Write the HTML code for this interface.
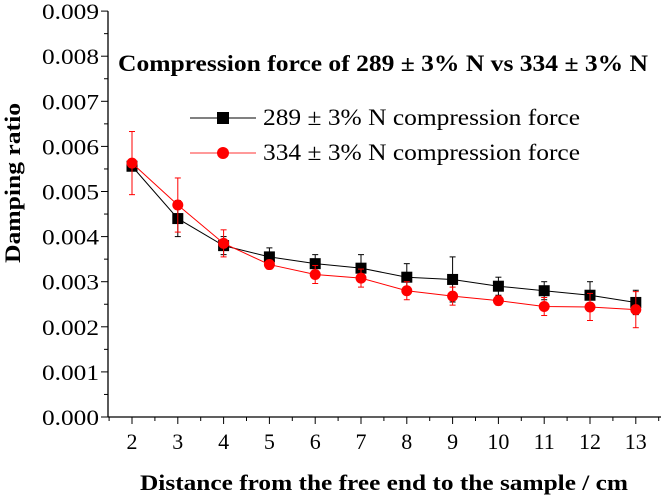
<!DOCTYPE html>
<html><head><meta charset="utf-8"><style>
body{margin:0;background:#fff}
svg{display:block;font-family:"Liberation Serif",serif}
</style></head><body>
<svg id="chart" width="664" height="499">
<text x="118" y="71" font-size="23" font-weight="bold" textLength="530" lengthAdjust="spacingAndGlyphs">Compression force of 289 ± 3% N vs  334 ± 3% N</text>
<g>
<line x1="190" y1="118" x2="256" y2="118" stroke="#000" stroke-width="1"/>
<rect x="217" y="112" width="12" height="12" fill="#000"/>
<text x="263" y="125" font-size="23" textLength="317" lengthAdjust="spacingAndGlyphs">289 ± 3% N compression force</text>
<line x1="190" y1="153" x2="256" y2="153" stroke="#f33" stroke-width="1"/>
<circle cx="223" cy="153" r="6" fill="#f00"/>
<text x="263" y="160" font-size="23" textLength="317" lengthAdjust="spacingAndGlyphs">334 ± 3% N compression force</text>
</g>
<text transform="translate(20,183) rotate(-90)" text-anchor="middle" font-size="22" font-weight="bold" textLength="160" lengthAdjust="spacingAndGlyphs">Damping ratio</text>
<text x="140" y="490" font-size="22" font-weight="bold" textLength="488" lengthAdjust="spacingAndGlyphs">Distance from the free end to the sample / cm</text>
</svg>
<script>
const categories=[2,3,4,5,6,7,8,9,10,11,12,13];
const series289=[0.00556,0.0044,0.0038,0.00355,0.0034,0.0033,0.0031,0.00305,0.0029,0.0028,0.0027,0.00254];
const err289=[0.0001,0.0004,0.0002,0.0002,0.0002,0.0003,0.0003,0.0005,0.0002,0.0002,0.0003,0.00027];
const series334=[0.00563,0.0047,0.00385,0.00338,0.00316,0.00308,0.0028,0.00268,0.00258,0.00245,0.00244,0.00238];
const err334=[0.0007,0.0006,0.0003,0.0001,0.0002,0.0002,0.0002,0.0002,0.0001,0.0002,0.0003,0.0004];
const yTicks=["0.000","0.001","0.002","0.003","0.004","0.005","0.006","0.007","0.008","0.009"];
const NS="http://www.w3.org/2000/svg";
const svg=document.getElementById('chart');
const X=v=>132+(v-2)*45.8;
const Y=v=>417-v/0.001*45.1;
function mk(t,a,p){const e=document.createElementNS(NS,t);for(const k in a)e.setAttribute(k,a[k]);(p||svg).appendChild(e);return e;}
const ax=mk('g',{});


mk('line',{x1:108,y1:Y(0.009),x2:108,y2:417.5,stroke:'#000','stroke-width':1.3},ax);
mk('line',{x1:108,y1:417,x2:661,y2:417,stroke:'#000','stroke-width':1.3},ax);
yTicks.forEach((t,i)=>{const y=Y(parseFloat(t));
mk('line',{x1:101,y1:y,x2:108,y2:y,stroke:'#000'},ax);
if(i<9)mk('line',{x1:104,y1:Y(parseFloat(t)+0.0005),x2:108,y2:Y(parseFloat(t)+0.0005),stroke:'#000'},ax);
const tx=mk('text',{x:42,y:y+8,'font-size':22,textLength:57,lengthAdjust:'spacingAndGlyphs'},ax);tx.textContent=t;

});
categories.forEach(c=>{const x=X(c);
mk('line',{x1:x,y1:417,x2:x,y2:424,stroke:'#000'},ax);
mk('line',{x1:x-22.9,y1:417,x2:x-22.9,y2:421,stroke:'#000'},ax);
const tx=mk('text',{x:x,y:449,'text-anchor':'middle','font-size':22},ax);tx.textContent=c;

});
mk('line',{x1:X(13)+22.9,y1:417,x2:X(13)+22.9,y2:421,stroke:'#000'},ax);
function draw(vals,errs,col,sq,name){
const g=mk('g',{});


mk('polyline',{points:vals.map((v,i)=>X(categories[i])+','+Y(v)).join(' '),fill:'none',stroke:col,'stroke-width':1},g);
vals.forEach((v,i)=>{const x=X(categories[i]);
mk('line',{x1:x,y1:Y(v-errs[i]),x2:x,y2:Y(v+errs[i]),stroke:col,'stroke-width':1},g);
[v-errs[i],v+errs[i]].forEach(e=>mk('line',{x1:x-3,y1:Y(e),x2:x+3,y2:Y(e),stroke:col},g));
const m=sq?mk('rect',{x:x-5.5,y:Y(v)-5.5,width:11,height:11,fill:col},g):mk('circle',{cx:x,cy:Y(v),r:5.5,fill:col},g);

});}
draw(series289,err289,'#000',true,'series-289');
draw(series334,err334,'#f00',false,'series-334');
</script>
</body></html>
